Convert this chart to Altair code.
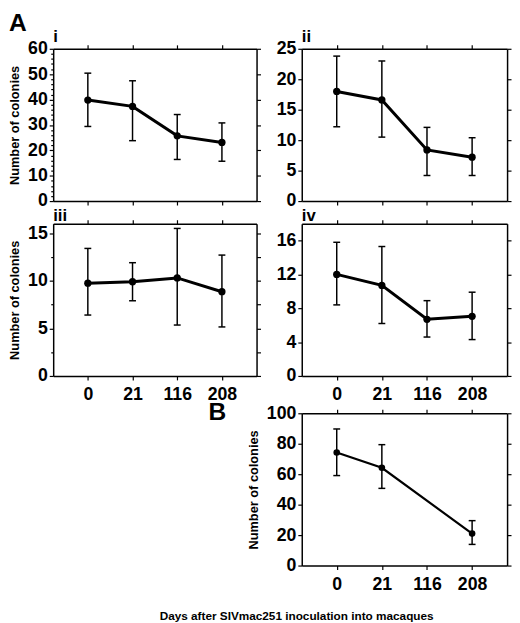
import altair as alt
import pandas as pd

days = ["0", "21", "116", "208"]

# Panel A-i
i_mean = [39.8, 37.3, 25.7, 23.1]
i_hi = [50.4, 47.4, 34.1, 30.8]
i_lo = [29.4, 23.8, 16.4, 15.7]
# Panel A-ii
ii_mean = [18.0, 16.6, 8.4, 7.2]
ii_hi = [23.8, 23.0, 12.1, 10.4]
ii_lo = [12.2, 10.5, 4.2, 4.2]
# Panel A-iii
iii_mean = [9.75, 9.9, 10.3, 8.85]
iii_hi = [13.4, 11.9, 15.5, 12.7]
iii_lo = [6.4, 7.9, 5.35, 5.15]
# Panel A-iv
iv_mean = [12.0, 10.7, 6.7, 7.05]
iv_hi = [15.8, 15.3, 8.9, 9.9]
iv_lo = [8.4, 6.2, 4.6, 4.3]
# Panel B (no measurement at day 116)
b_days = ["0", "21", "208"]
b_mean = [74.3, 64.2, 21.0]
b_hi = [89.7, 79.4, 29.5]
b_lo = [59.1, 50.7, 13.9]

FONT = "Liberation Sans"
PW1 = 207
PW2 = 209
PH = 155


def panel(dlist, mean, lo, hi, ymax, major, minor, right_vals, label, xlabels,
          ytitle, line_w, pt_size, pw):
    df = pd.DataFrame({"day": dlist, "mean": mean, "lo": lo, "hi": hi})
    base = alt.Chart(df)
    yscale = alt.Scale(domain=[0, ymax], nice=False, zero=True)
    xscale = alt.Scale(type="point", domain=days, padding=0.775)

    def X(axis):
        return alt.X("day:N", scale=xscale, axis=axis)

    bottom_axis = alt.Axis(orient="bottom", labels=xlabels, title=None, labelAngle=0,
                           labelPadding=6)
    top_axis = alt.Axis(orient="top", labels=False, title=None)
    if ytitle:
        left_axis = alt.Axis(orient="left", values=major, title=ytitle)
    else:
        left_axis = alt.Axis(orient="left", values=major, title=None)
    right_axis = alt.Axis(orient="right", values=right_vals, labels=False, title=None)

    rule = base.mark_rule(color="black", strokeWidth=1.5).encode(
        x=X(bottom_axis),
        y=alt.Y("lo:Q", scale=yscale, axis=left_axis),
        y2="hi:Q",
    )
    cap_lo = base.mark_tick(color="black", thickness=1.5, size=7, opacity=1).encode(
        x=X(top_axis),
        y=alt.Y("lo:Q", scale=yscale, axis=right_axis),
    )
    if minor:
        minor_axis = alt.Axis(orient="left", values=minor, labels=False, domain=False,
                              tickSize=2.5, title=None)
    else:
        minor_axis = None
    cap_hi = base.mark_tick(color="black", thickness=1.5, size=7, opacity=1).encode(
        x=X(None),
        y=alt.Y("hi:Q", scale=yscale, axis=minor_axis),
    )
    line = base.mark_line(color="black", strokeWidth=line_w).encode(
        x=X(None),
        y=alt.Y("mean:Q", scale=yscale, axis=None),
    )
    pts = base.mark_circle(color="black", opacity=1, size=pt_size).encode(
        x=X(None),
        y=alt.Y("mean:Q", scale=yscale, axis=None),
    )
    ch = alt.layer(rule, cap_lo, cap_hi, line, pts).resolve_axis(
        x="independent", y="independent"
    )
    props = dict(width=pw, height=PH)
    if label:
        props["title"] = alt.TitleParams(
            label, anchor="start", frame="group", fontSize=17, fontWeight="bold",
            font=FONT, offset=-6, color="black",
        )
    return ch.properties(**props)


p_i = panel(days, i_mean, i_lo, i_hi, 60, [0, 10, 20, 30, 40, 50, 60],
            [v for v in range(0, 61, 2) if v % 10], [0, 10, 20, 30, 40, 50, 60],
            "i", False, "Number of colonies", 3, 55, PW1)
p_ii = panel(days, ii_mean, ii_lo, ii_hi, 25, [0, 5, 10, 15, 20, 25], None,
             [0, 5, 10, 15, 20, 25], "ii", False, None, 3, 55, PW2)
p_iii = panel(days, iii_mean, iii_lo, iii_hi, 16, [0, 5, 10, 15], [2.5, 7.5, 12.5],
              [0, 2.5, 5, 7.5, 10, 12.5, 15], "iii", True, "Number of colonies", 3, 55,
              PW1)
p_iv = panel(days, iv_mean, iv_lo, iv_hi, 18, [0, 4, 8, 12, 16], None,
             [0, 4, 8, 12, 16], "iv", True, None, 3, 55, PW2)
p_b = panel(b_days, b_mean, b_lo, b_hi, 100, [0, 20, 40, 60, 80, 100], None,
            [0, 20, 40, 60, 80, 100], None, True, None, 2.2, 45, PW2)

lab_df = pd.DataFrame({"k": [0]})
b_letter = alt.Chart(lab_df).mark_text(
    text="B", font=FONT, fontSize=25, fontWeight="bold", align="left",
    baseline="top", color="black",
).encode(x=alt.value(158), y=alt.value(-13))
b_ytitle = alt.Chart(lab_df).mark_text(
    text="Number of colonies", font=FONT, fontSize=13, fontWeight="bold",
    align="center", baseline="middle", angle=270, color="black",
).encode(x=alt.value(204), y=alt.value(78))
b_lab = alt.layer(b_letter, b_ytitle).properties(width=PW1, height=PH)

grid = alt.concat(p_i, p_ii, p_iii, p_iv, b_lab, p_b, columns=2, align="each",
                  spacing={"row": -3, "column": 4})

mid = alt.vconcat(grid).properties(
    title=alt.TitleParams("A", anchor="start", frame="bounds", fontSize=25,
                          fontWeight="bold", font=FONT, offset=-8, color="black")
)

chart = alt.vconcat(mid).properties(
    padding={"top": -2, "left": 0, "right": 0, "bottom": 0},
    title=alt.TitleParams(
        "Days after SIVmac251 inoculation into macaques", orient="bottom",
        anchor="middle", fontSize=12, fontWeight="bold", font=FONT, offset=18,
        dx=37, color="black",
    ),
).configure_view(stroke=None).configure_axis(
    labelFont=FONT, labelFontSize=18, labelFontWeight="bold", labelColor="black",
    labelPadding=2, titleFont=FONT, titleFontSize=13, titleFontWeight="bold",
    titleColor="black", titlePadding=6, tickColor="black", tickSize=4,
    tickWidth=1.2, domainColor="black", domainWidth=1.5, grid=False,
).configure_concat(spacing=0)

chart.save("out.html", embed_options={"renderer": "svg", "actions": False})
